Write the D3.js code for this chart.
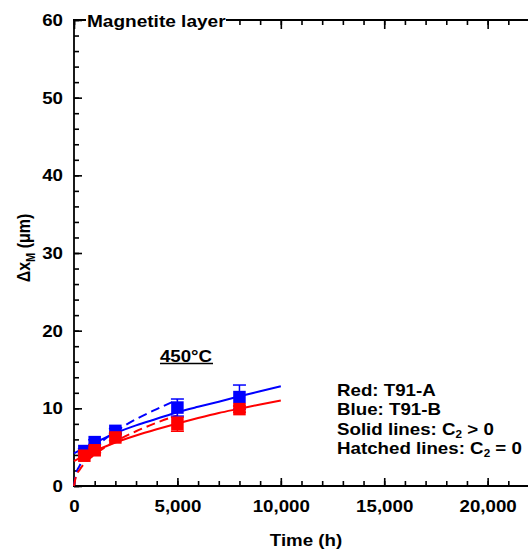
<!DOCTYPE html>
<html>
<head>
<meta charset="utf-8">
<script src="https://cdnjs.cloudflare.com/ajax/libs/d3/7.8.5/d3.min.js"></script>
<style>
  body { margin: 0; background: #fff; }
  text { font-family: "Liberation Sans", Arial, sans-serif; font-weight: bold; }
</style>
</head>
<body>
<script>
// measured points (h, um)
const timesH = [500, 1000, 2000, 5000, 8000];
const redMean = [3.9, 4.6, 6.25, 7.95, 9.9];
const redErr = [0.3, 0.3, 0.4, 0.9, 0.4];
const blueMean = [4.5, 5.65, 7.1, 10.1, 11.45];
const blueErr = [0.3, 0.3, 0.3, 1.1, 1.55];

// fitted curves, C2 > 0 (solid)
const fitT = [0, 500, 1000, 2000, 3000, 4000, 5000, 6000, 7000, 8000, 9000, 10000];
const redFit = [3.2, 3.9, 4.5, 5.6, 6.5, 7.3, 8.05, 8.75, 9.4, 9.95, 10.5, 11.0];
const blueFit = [4.2, 4.9, 5.55, 6.8, 7.8, 8.65, 9.5, 10.2, 10.85, 11.55, 12.2, 12.85];

// C2 = 0 (hatched)
const parabT = [0, 100, 250, 500, 1000, 1500, 2000, 3000, 4000, 5000];
const redParab = [0, 1.3, 2.0, 2.9, 4.05, 5.0, 5.75, 7.05, 8.15, 9.1];
const blueParab = [0, 1.55, 2.5, 3.5, 4.95, 6.05, 7.0, 8.6, 9.9, 11.1];

const xMajor = [0, 5000, 10000, 15000, 20000];
const xMinor = d3.range(0, 22001, 1000);
const yMajor = [0, 10, 20, 30, 40, 50, 60];
const yMinor = d3.range(0, 61, 2);

const W = 528, H = 555;
const sx = 1.17; // glyphs in the picture are a bit wide

const svg = d3.select("body").append("svg")
  .attr("width", W)
  .attr("height", H);

const x = d3.scaleLinear().domain([0, 22000]).range([74, 529]);
const y = d3.scaleLinear().domain([0, 60]).range([486, 20]);

// axes
function styleAxis(g) {
  g.select(".domain").remove();
  g.selectAll(".tick line").attr("stroke", "#000").attr("stroke-width", 1.6);
}

svg.append("g")
  .attr("transform", "translate(0,486)")
  .call(d3.axisBottom(x).tickValues(xMinor).tickSize(-5).tickFormat(""))
  .call(styleAxis);
svg.append("g")
  .attr("transform", "translate(0,486)")
  .call(d3.axisBottom(x).tickValues(xMajor).tickSize(-8).tickPadding(14.6).tickFormat(d3.format(",")))
  .call(styleAxis)
  .call((g) => g.selectAll("text").attr("font-size", 16).attr("fill", "#000")
    .attr("transform", `scale(${sx},1)`));

svg.append("g")
  .attr("transform", "translate(0,20)")
  .call(d3.axisTop(x).tickValues(xMinor).tickSize(-5).tickFormat(""))
  .call(styleAxis);
svg.append("g")
  .attr("transform", "translate(0,20)")
  .call(d3.axisTop(x).tickValues(xMajor).tickSize(-9).tickFormat(""))
  .call(styleAxis);

svg.append("g")
  .attr("transform", "translate(74,0)")
  .call(d3.axisLeft(y).tickValues(yMinor).tickSize(-5).tickFormat(""))
  .call(styleAxis);
svg.append("g")
  .attr("transform", "translate(74,0)")
  .call(d3.axisLeft(y).tickValues(yMajor).tickSize(-8).tickPadding(11 / sx))
  .call(styleAxis)
  .call((g) => g.selectAll("text").attr("font-size", 16).attr("fill", "#000")
    .attr("dy", "0.35em")
    .attr("transform", `scale(${sx},1)`));

// frame lines
svg.append("line").attr("x1", 74).attr("x2", 74).attr("y1", 19).attr("y2", 487)
  .attr("stroke", "#000").attr("stroke-width", 1.8);
svg.append("line").attr("x1", 73).attr("x2", W).attr("y1", 486).attr("y2", 486)
  .attr("stroke", "#000").attr("stroke-width", 1.8);
svg.append("line").attr("x1", 73).attr("x2", W).attr("y1", 20).attr("y2", 20)
  .attr("stroke", "#000").attr("stroke-width", 1.8);

// title sits on the top axis
svg.append("rect").attr("x", 86).attr("y", 10).attr("width", 140).attr("height", 20).attr("fill", "#fff");
svg.append("text")
  .attr("transform", `translate(87,26.5) scale(${sx + 0.02},1)`)
  .attr("font-size", 16)
  .text("Magnetite layer");

// axis titles
svg.append("text")
  .attr("transform", `translate(306,546) scale(${sx},1)`)
  .attr("text-anchor", "middle")
  .attr("font-size", 16)
  .text("Time (h)");

const yLab = svg.append("text")
  .attr("transform", `translate(30,248) scale(${sx},1) rotate(-90)`)
  .attr("text-anchor", "middle")
  .attr("font-size", 16);
yLab.append("tspan").text("\u0394x");
yLab.append("tspan").attr("font-size", 11).attr("dy", 4).text("M");
yLab.append("tspan").attr("dy", -4).text(" (\u03bcm)");

// curves
const line = d3.line()
  .x((d) => x(d[0]))
  .y((d) => y(d[1]))
  .curve(d3.curveMonotoneX);

const curves = [
  { t: fitT, v: blueFit, color: "#0000ff", dash: null },
  { t: fitT, v: redFit, color: "#ff0000", dash: null },
  { t: parabT, v: blueParab, color: "#0000ff", dash: "9,5" },
  { t: parabT, v: redParab, color: "#ff0000", dash: "9,5" },
];
curves.forEach((c) => {
  svg.append("path")
    .attr("d", line(c.t.map((t, i) => [t, c.v[i]])))
    .attr("fill", "none")
    .attr("stroke", c.color)
    .attr("stroke-width", 2)
    .attr("stroke-dasharray", c.dash);
});

// points with error bars (blue first, red on top)
const sq = 12.5;
[
  { v: blueMean, e: blueErr, color: "#0000ff" },
  { v: redMean, e: redErr, color: "#ff0000" },
].forEach((s) => {
  const pts = timesH.map((t, i) => ({ t: t, v: s.v[i], e: s.e[i] }));
  const g = svg.append("g");
  pts.forEach((p) => {
    const cx = x(p.t);
    g.append("line").attr("x1", cx).attr("x2", cx)
      .attr("y1", y(p.v - p.e)).attr("y2", y(p.v + p.e))
      .attr("stroke", s.color).attr("stroke-width", 1.5);
    [p.v - p.e, p.v + p.e].forEach((ev) => {
      g.append("line").attr("x1", cx - 6.5).attr("x2", cx + 6.5)
        .attr("y1", y(ev)).attr("y2", y(ev))
        .attr("stroke", s.color).attr("stroke-width", 1.5);
    });
  });
  g.selectAll("rect")
    .data(pts)
    .enter()
    .append("rect")
    .attr("x", (d) => x(d.t) - sq / 2)
    .attr("y", (d) => y(d.v) - sq / 2)
    .attr("width", sq)
    .attr("height", sq)
    .attr("fill", s.color);
});

// annotations
svg.append("text")
  .attr("transform", `translate(186,361.5) scale(${sx},1)`)
  .attr("text-anchor", "middle")
  .attr("font-size", 16)
  .text("450\u00b0C");
svg.append("line").attr("x1", 160).attr("x2", 213).attr("y1", 363.5).attr("y2", 363.5)
  .attr("stroke", "#000").attr("stroke-width", 1.5);

const legendLines = [
  ["Red: T91-A"],
  ["Blue: T91-B"],
  ["Solid lines: C", "2", " > 0"],
  ["Hatched lines: C", "2", " = 0"],
];
legendLines.forEach((parts, i) => {
  const t = svg.append("text")
    .attr("transform", `translate(337,${396 + i * 19.3}) scale(${sx},1)`)
    .attr("font-size", 16);
  t.append("tspan").text(parts[0]);
  if (parts.length > 1) {
    t.append("tspan").attr("font-size", 10).attr("dy", 3).text(parts[1]);
    t.append("tspan").attr("dy", -3).text(parts[2]);
  }
});
</script>
</body>
</html>
